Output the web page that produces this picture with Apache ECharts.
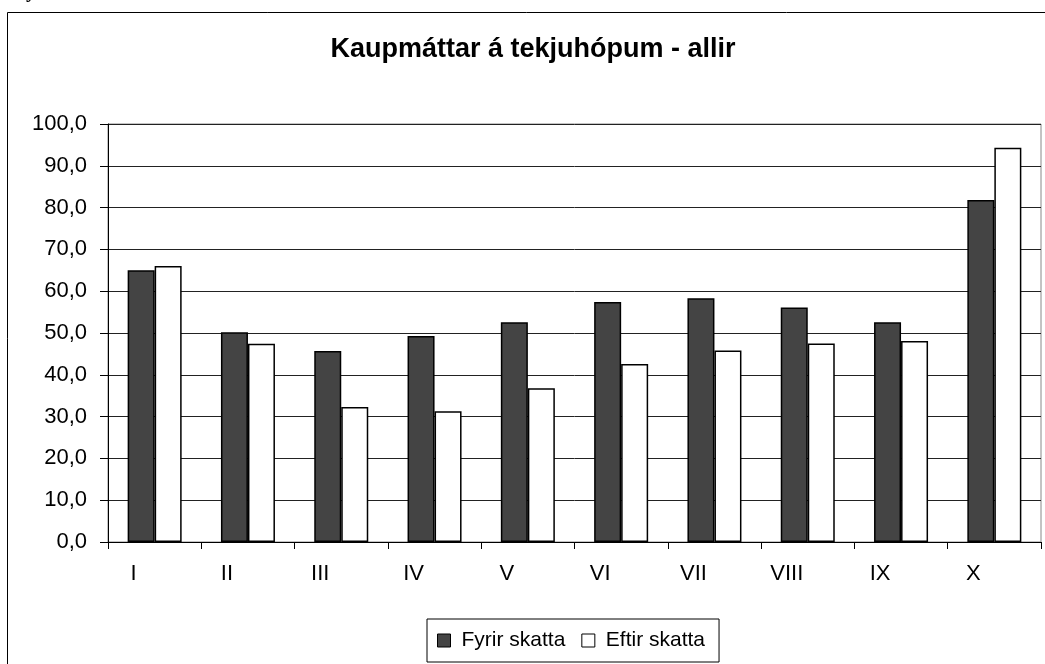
<!DOCTYPE html>
<html>
<head>
<meta charset="utf-8">
<script src="https://cdn.jsdelivr.net/npm/echarts@6/dist/echarts.min.js"></script>
<style>html,body{margin:0;padding:0;background:#fff;}#c{width:1045px;height:664px;}</style>
</head>
<body>
<div id="c"></div>
<script>
const titleText = 'Kaupmáttar á tekjuhópum - allir';
const categories = ['I','II','III','IV','V','VI','VII','VIII','IX','X'];
const fyrirSkatta = [65.0, 50.2, 45.7, 49.3, 52.6, 57.4, 58.3, 56.1, 52.6, 81.8];
const eftirSkatta = [66.0, 47.4, 32.3, 31.3, 36.8, 42.6, 45.8, 47.5, 48.1, 94.3];
const seriesNames = ['Fyrir skatta', 'Eftir skatta'];

const chart = echarts.init(document.getElementById('c'));
const FONT = 'Arial, "Liberation Sans", sans-serif';
chart.setOption({
  animation: false,
  backgroundColor: '#fff',
  textStyle: { fontFamily: FONT },
  graphic: [
    { type: 'rect', shape: { x: 7.5, y: 12.5, width: 1100, height: 700 }, style: { fill: 'none', stroke: '#000', lineWidth: 1 }, silent: true },
    { type: 'text', x: 533, y: 50, style: { text: titleText, font: 'bold 27px ' + FONT, fill: '#000', align: 'center', verticalAlign: 'middle' } },
    { type: 'text', x: 26, y: -8, style: { text: 'y', font: 'bold 20px "Liberation Serif", serif', fill: '#000', align: 'left', verticalAlign: 'middle' } }
  ],
  grid: { left: 108, right: 4, top: 124, bottom: 122, show: true, borderColor: '#888', borderWidth: 1 },
  legend: {
    data: seriesNames,
    left: 427, top: 619,
    padding: [11, 14, 11, 10],
    itemGap: 16,
    itemWidth: 13, itemHeight: 13,
    icon: 'rect',
    borderColor: '#000', borderWidth: 1,
    itemStyle: { borderColor: '#000', borderWidth: 1 },
    textStyle: { fontSize: 21, color: '#000', fontFamily: FONT, padding: [0, 0, 0, 6] }
  },
  xAxis: {
    type: 'category',
    data: categories,
    axisLine: { lineStyle: { color: '#000', width: 1 } },
    axisTick: { show: true, length: 7, lineStyle: { color: '#000' } },
    axisLabel: { fontSize: 22, color: '#000', margin: 21, padding: [0, 42, 0, 0] },
    splitLine: { show: false }
  },
  yAxis: {
    type: 'value',
    min: 0, max: 100, interval: 10,
    axisLine: { show: true, lineStyle: { color: '#000', width: 1 } },
    axisTick: { show: true, length: 8, lineStyle: { color: '#000' } },
    axisLabel: { fontSize: 22, color: '#000', margin: 21, formatter: v => v.toFixed(1).replace('.', ',') },
    splitLine: { show: true, lineStyle: { color: '#222', width: 1 } }
  },
  series: [
    { name: seriesNames[0], type: 'bar', data: fyrirSkatta, barWidth: 27, barGap: '0%',
      itemStyle: { color: '#444444', borderColor: '#000', borderWidth: 1.5 } },
    { name: seriesNames[1], type: 'bar', data: eftirSkatta, barWidth: 27, barGap: '0%',
      itemStyle: { color: '#ffffff', borderColor: '#000', borderWidth: 1.5 } }
  ]
});
</script>
</body>
</html>
